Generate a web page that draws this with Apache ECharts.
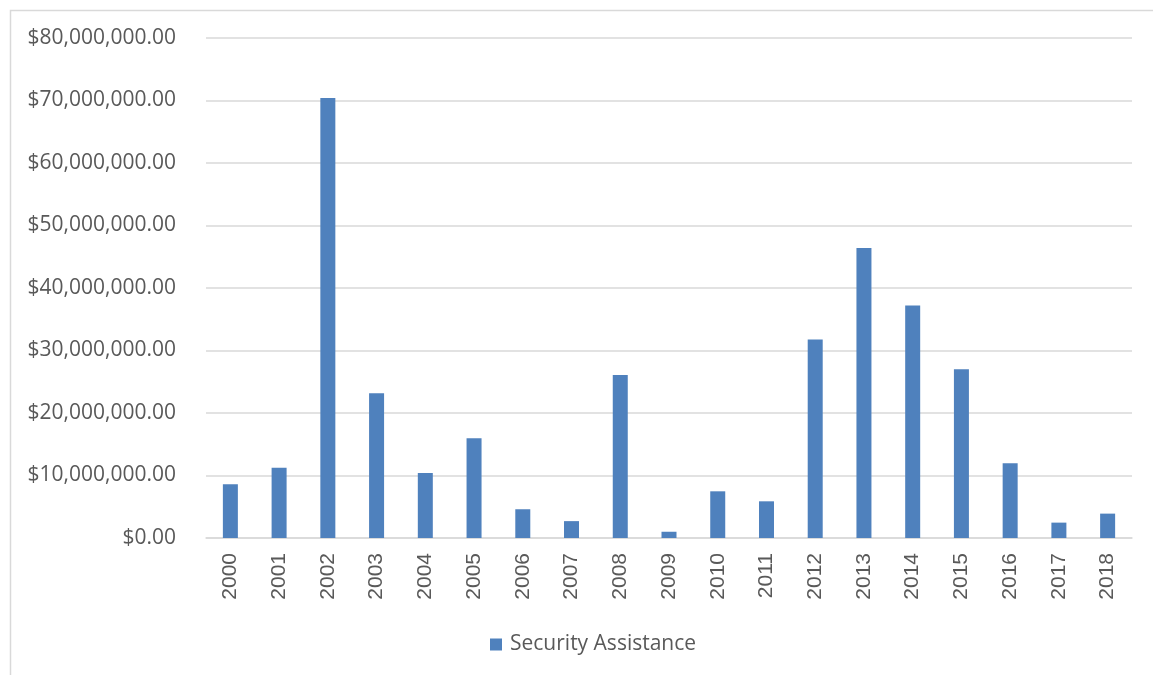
<!DOCTYPE html>
<html>
<head>
<meta charset="utf-8">
<script src="https://cdn.jsdelivr.net/npm/echarts@6/dist/echarts.min.js"></script>
<style>
html,body{margin:0;padding:0;background:#fff;}
#c{width:1153px;height:675px;}
</style>
</head>
<body>
<div id="c"></div>
<script>
var years = ['2000','2001','2002','2003','2004','2005','2006','2007','2008','2009','2010','2011','2012','2013','2014','2015','2016','2017','2018'];
var securityAssistance = [8600000, 11250000, 70400000, 23150000, 10400000, 15950000, 4600000, 2700000, 26100000, 1000000, 7470000, 5870000, 31750000, 46400000, 37200000, 27000000, 11950000, 2460000, 3900000];
var yTicks = {min: 0, max: 80000000, interval: 10000000};
var seriesName = 'Security Assistance';

function money(v){
  var s = Math.round(v).toString().replace(/\B(?=(\d{3})+(?!\d))/g, ',');
  return '$' + s + '.00';
}

var chart = echarts.init(document.getElementById('c'), null, {renderer:'canvas'});
chart.setOption({
  animation:false,
  backgroundColor:'#ffffff',
  graphic:[{
    type:'rect', left:8, top:8, z:-1,
    shape:{width:1200, height:700},
    style:{fill:'none', stroke:'#d9d9d9', lineWidth:1.5}
  }],
  grid:{left:206, right:21, top:38, bottom:137, containLabel:false},
  legend:{
    data:[seriesName], bottom:15, left:485,
    icon:'rect', itemWidth:12, itemHeight:12, itemGap:8,
    textStyle:{fontFamily:'Open Sans', fontSize:21, color:'#595959', padding:[0,0,0,3]}
  },
  xAxis:{
    type:'category', data:years,
    axisLine:{lineStyle:{color:'#d9d9d9', width:1.5}},
    axisTick:{show:false},
    axisLabel:{rotate:90, fontFamily:'Liberation Sans', fontSize:21, color:'#595959', margin:15}
  },
  yAxis:{
    type:'value', min:yTicks.min, max:yTicks.max, interval:yTicks.interval,
    axisLine:{show:false}, axisTick:{show:false},
    splitLine:{lineStyle:{color:'#d9d9d9', width:1.5}},
    axisLabel:{formatter:money, fontFamily:'Open Sans', fontSize:21, color:'#595959', margin:30}
  },
  series:[{
    name:seriesName, type:'bar', data:securityAssistance,
    barWidth:15,
    itemStyle:{color:'#4f81bd'}
  }]
});
</script>
</body>
</html>
